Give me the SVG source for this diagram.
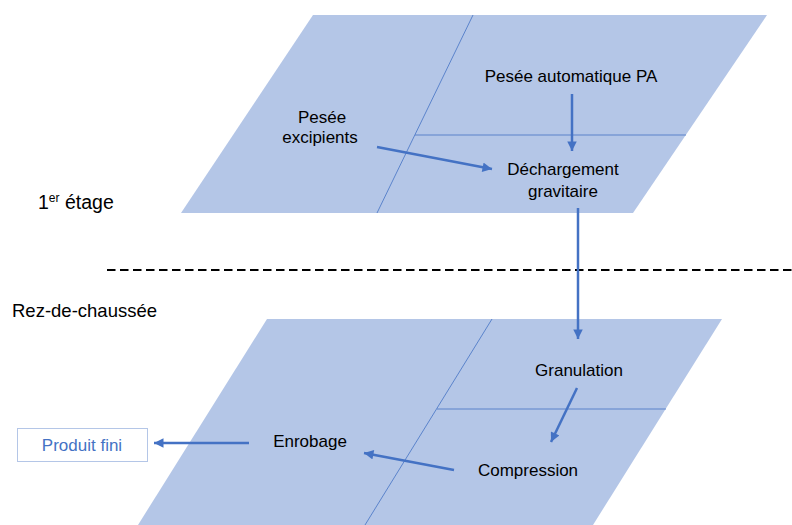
<svg xmlns="http://www.w3.org/2000/svg" width="792" height="525" viewBox="0 0 792 525">
<style>
.floor{fill:#b4c6e7;stroke:none}
.div{stroke:#4472c4;stroke-width:0.8;fill:none}
.lbl{font-family:"Liberation Sans",Arial,sans-serif;font-size:17px;fill:#000;text-anchor:middle}
.floorlbl{font-family:"Liberation Sans",Arial,sans-serif;font-size:18.5px;fill:#000}
.conn{stroke:#4472c4;stroke-width:2.5;fill:none;marker-end:url(#ah)}
</style>
<defs>
<marker id="ah" viewBox="0 0 10 10" refX="10" refY="5" markerWidth="4.2" markerHeight="3.8" orient="auto" markerUnits="strokeWidth">
<path d="M0,0 L10,5 L0,10 z" fill="#4472c4"/>
</marker>
</defs>
<rect width="792" height="525" fill="#fff"/>
<g id="floor-1">
<polygon class="floor" points="313,15 767,15 633,213 181,213"/>
<line class="div" x1="473" y1="15" x2="377" y2="213"/>
<line class="div" x1="415" y1="135" x2="686" y2="135"/>
</g>
<g id="floor-0">
<polygon class="floor" points="267,319 722,319 593,525 138,525"/>
<line class="div" x1="492" y1="319" x2="365" y2="525"/>
<line class="div" x1="437" y1="409" x2="666" y2="409"/>
</g>
<line x1="107" y1="270" x2="792" y2="270" stroke="#000" stroke-width="2" stroke-dasharray="8.5 4.5"/>
<g id="label-etage">
<text class="floorlbl" x="38" y="209" style="font-size:19.5px">1<tspan font-size="12" dy="-7">er</tspan><tspan dy="7"> étage</tspan></text>
</g>
<g id="label-rdc">
<text class="floorlbl" x="12" y="317">Rez-de-chaussée</text>
</g>
<g id="connectors">
<line class="conn" x1="572" y1="94" x2="572" y2="151"/>
<line class="conn" x1="377" y1="147" x2="492" y2="169"/>
<line class="conn" x1="578" y1="208" x2="578" y2="339"/>
<line class="conn" x1="577" y1="388" x2="551" y2="442"/>
<line class="conn" x1="454" y1="470" x2="364" y2="453"/>
<line class="conn" x1="249" y1="443" x2="154" y2="443"/>
</g>
<g id="pesee-pa"><text class="lbl" x="571" y="82">Pesée automatique PA</text></g>
<g id="pesee-excipients"><text class="lbl" x="322" y="123">Pesée</text><text class="lbl" x="320" y="143">excipients</text></g>
<g id="dechargement"><text class="lbl" x="563" y="175">Déchargement</text><text class="lbl" x="563" y="197">gravitaire</text></g>
<g id="granulation"><text class="lbl" x="579" y="376">Granulation</text></g>
<g id="compression"><text class="lbl" x="528" y="476">Compression</text></g>
<g id="enrobage"><text class="lbl" x="310" y="447">Enrobage</text></g>
<g id="produit-fini">
<rect x="17.5" y="428.5" width="130" height="33" fill="#fff" stroke="#b4c6e7" stroke-width="1"/>
<text class="lbl" x="82" y="451" style="fill:#4472c4">Produit fini</text>
</g>
</svg>
